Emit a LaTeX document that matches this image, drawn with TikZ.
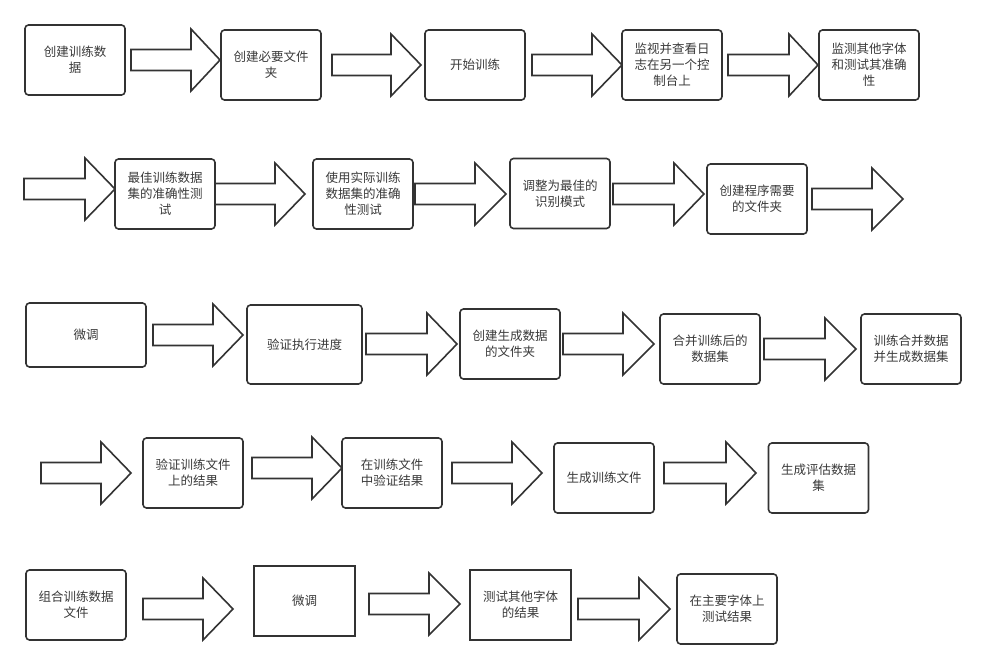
\documentclass[tikz,border=0pt]{standalone}
\usepackage{fontspec}
\setmainfont{Noto Sans CJK SC}
\definecolor{ln}{HTML}{333333}
\definecolor{tx}{HTML}{3A3A3A}
\newcommand{\barrow}[4]{%
  \draw[arr] (#1,#4-10.5) -- (#2,#4-10.5) -- (#2,#4-31) -- (#3,#4) -- (#2,#4+31) -- (#2,#4+10.5) -- (#1,#4+10.5) -- cycle;}
\begin{document}
\begin{tikzpicture}[x=1pt,y=-1pt,
  box/.style={draw=ln, line width=1.6pt, rounded corners=3.5pt, fill=white,
    minimum width=100pt, minimum height=70pt, inner sep=0pt, align=center,
    text=tx, font=\fontsize{12.5}{16}\selectfont},
  sbox/.style={box, sharp corners},
  arr/.style={draw=ln, line width=1.6pt, fill=white, line join=miter}]
\useasboundingbox (0,0) rectangle (986,669);
\fill[white] (0,0) rectangle (986,669);
% arrows
\barrow{131}{191}{220}{60}
\barrow{332}{391}{421}{65}
\barrow{532}{592}{622}{65}
\barrow{728}{789}{818}{65}
\barrow{24}{85}{115}{189}
\barrow{215}{275}{305}{194}
\barrow{415}{475}{506}{194}
\barrow{613}{674}{704}{194}
\barrow{812}{872}{903}{199}
\barrow{153}{213}{243}{335}
\barrow{366}{427}{457}{344}
\barrow{563}{623}{654}{344}
\barrow{764}{825}{856}{349}
\barrow{41}{101}{131}{473}
\barrow{252}{312}{342}{468}
\barrow{452}{512}{542}{473}
\barrow{664}{726}{756}{473}
\barrow{143}{203}{233}{609}
\barrow{369}{429}{460}{604}
\barrow{578}{639}{670}{609}
% boxes
\node[box] (b1) at (75,60) {创建训练数\\据};
\node[box] (b2) at (271,65) {创建必要文件\\夹};
\node[box] (b3) at (475,65) {开始训练};
\node[box] (b4) at (672,65) {监视并查看日\\志在另一个控\\制台上};
\node[box] (b5) at (869,65) {监测其他字体\\和测试其准确\\性};
\node[box] (b6) at (165,194) {最佳训练数据\\集的准确性测\\试};
\node[box] (b7) at (363,194) {使用实际训练\\数据集的准确\\性测试};
\node[box] (b8) at (560,193.5) {调整为最佳的\\识别模式};
\node[box] (b9) at (757,199) {创建程序需要\\的文件夹};
\node[box, minimum width=120pt, minimum height=64pt] (b10) at (86,335) {微调};
\node[box, minimum width=115pt, minimum height=79pt] (b11) at (304.5,344.5) {验证执行进度};
\node[box] (b12) at (510,344) {创建生成数据\\的文件夹};
\node[box] (b13) at (710,349) {合并训练后的\\数据集};
\node[box] (b14) at (911,349) {训练合并数据\\并生成数据集};
\node[box] (b15) at (193,473) {验证训练文件\\上的结果};
\node[box] (b16) at (392,473) {在训练文件\\中验证结果};
\node[box] (b17) at (604,478) {生成训练文件};
\node[box] (b18) at (818.5,478) {生成评估数据\\集};
\node[box] (b19) at (76,605) {组合训练数据\\文件};
\node[sbox, minimum width=101pt] (b20) at (304.5,601) {微调};
\node[sbox, minimum width=101pt] (b21) at (520.5,605) {测试其他字体\\的结果};
\node[box] (b22) at (727,609) {在主要字体上\\测试结果};
\end{tikzpicture}
\end{document}
